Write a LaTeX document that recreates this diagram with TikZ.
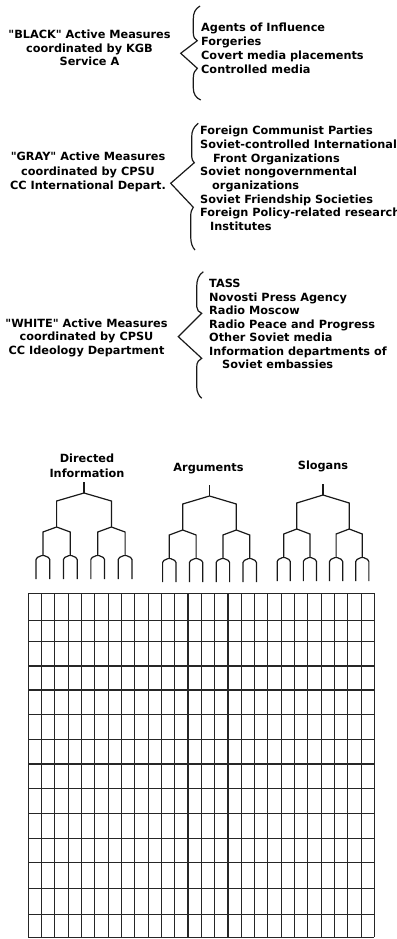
\documentclass[tikz,border=0pt]{standalone}
\usepackage{fontspec}
\setmainfont{DejaVu Sans}[Ligatures=TeXOff]
\newcommand\dq{"}
\newcommand\mytree[3]{%
  \draw[ln] ({#1},{#3}) -- ({#1},{#3+11});
  \foreach \sa in {-1,1} {
    \draw[ln] ({#1},{#3+11}) -- ({#1+2*\sa*#2},{#3+19}) -- ({#1+2*\sa*#2},{#3+45});
    \foreach \sb in {-1,1} {
      \draw[ln] ({#1+2*\sa*#2},{#3+45}) -- ({#1+(2*\sa+\sb)*#2},{#3+50}) -- ({#1+(2*\sa+\sb)*#2},{#3+73});
      \draw[ln, rounded corners=1.5pt] ({#1+(2*\sa+\sb-0.5)*#2},{#3+97}) -- ({#1+(2*\sa+\sb-0.5)*#2},{#3+76}) -- ({#1+(2*\sa+\sb)*#2},{#3+73}) -- ({#1+(2*\sa+\sb+0.5)*#2},{#3+76}) -- ({#1+(2*\sa+\sb+0.5)*#2},{#3+97});
    }
  }
}
\begin{document}
\begin{tikzpicture}[x=1pt,y=-1pt,
  txt/.style={font=\fontsize{11.3}{13}\selectfont\bfseries, inner sep=0pt, text=black},
  ln/.style={line width=1.2pt, draw=black!90},
  gridln/.style={line width=1.1pt, draw=black!85}]
\useasboundingbox (0,0) rectangle (396,939);

% ---- BLACK ----
\node[txt, anchor=base] (b1) at (89.5,39) {\dq BLACK\dq{} Active Measures};
\node[txt, anchor=base] (b2) at (89.5,52.3) {coordinated by KGB};
\node[txt, anchor=base] (b3) at (89.5,65.7) {Service A};
\draw[ln] (200,6) .. controls (195,9) and (193.3,13) .. (193.3,19) -- (193.3,33)
  .. controls (193.3,37) and (195,39.5) .. (197.3,40.7) -- (180.7,53.3) -- (197.3,68.3)
  .. controls (195,70) and (193.3,73) .. (193.3,78) -- (193.3,88)
  .. controls (193.3,94) and (196,98) .. (200.7,100);
\node[txt, anchor=base west] (l11) at (201,31.7) {Agents of Influence};
\node[txt, anchor=base west] (l12) at (201,45.8) {Forgeries};
\node[txt, anchor=base west] (l13) at (201,59.9) {Covert media placements};
\node[txt, anchor=base west] (l14) at (201,74) {Controlled media};

% ---- GRAY ----
\node[txt, anchor=base] (g1) at (88,160.7) {\dq GRAY\dq{} Active Measures};
\node[txt, anchor=base] (g2) at (88,175.2) {coordinated by CPSU};
\node[txt, anchor=base] (g3) at (88,189) {CC International Depart.};
\draw[ln] (198.3,123.3) .. controls (193.5,127) and (191.7,131) .. (191.7,137) -- (191.7,156.7)
  .. controls (191.7,159.5) and (193,161.5) .. (194.3,162.7) -- (170.7,183.3) -- (193.3,207.3)
  .. controls (191.5,209.5) and (190.7,212) .. (190.7,217) -- (190.7,236.7)
  .. controls (190.7,243) and (192.5,247.5) .. (195,250);
\node[txt, anchor=base west] (l21) at (200,135) {Foreign Communist Parties};
\node[txt, anchor=base west] (l22) at (200,148.65) {Soviet-controlled International};
\node[txt, anchor=base west] (l23) at (213,162.3) {Front Organizations};
\node[txt, anchor=base west] (l24) at (200,175.95) {Soviet nongovernmental};
\node[txt, anchor=base west] (l25) at (212,189.6) {organizations};
\node[txt, anchor=base west] (l26) at (200,203.25) {Soviet Friendship Societies};
\node[txt, anchor=base west] (l27) at (200,216.9) {Foreign Policy-related research};
\node[txt, anchor=base west] (l28) at (210,230.55) {Institutes};

% ---- WHITE ----
\node[txt, anchor=base] (w1) at (86.5,327.3) {\dq WHITE\dq{} Active Measures};
\node[txt, anchor=base] (w2) at (86.5,340.8) {coordinated by CPSU};
\node[txt, anchor=base] (w3) at (86.5,354.5) {CC Ideology Department};
\draw[ln] (203.3,271.7) .. controls (198.5,275) and (196.7,280) .. (196.7,287) -- (196.7,306.7)
  .. controls (196.7,310) and (199,312.3) .. (201.7,313.3) -- (178.3,336.7) -- (201.7,358.3)
  .. controls (199,359.5) and (196.7,362) .. (196.7,367) -- (196.7,386.7)
  .. controls (196.7,392) and (199,396) .. (201.7,398.3);
\node[txt, anchor=base west] (l31) at (209,287.5) {TASS};
\node[txt, anchor=base west] (l32) at (209,301) {Novosti Press Agency};
\node[txt, anchor=base west] (l33) at (209,314.5) {Radio Moscow};
\node[txt, anchor=base west] (l34) at (209,328) {Radio Peace and Progress};
\node[txt, anchor=base west] (l35) at (209,341.5) {Other Soviet media};
\node[txt, anchor=base west] (l36) at (209,355) {Information departments of};
\node[txt, anchor=base west] (l37) at (222,368.5) {Soviet embassies};

% ---- trees ----
\node[txt, anchor=base] (t1a) at (87,462.3) {Directed};
\node[txt, anchor=base] (t1b) at (87,477.3) {Information};
\node[txt, anchor=base] (t2) at (208.5,471.5) {Arguments};
\node[txt, anchor=base] (t3) at (323,469.5) {Slogans};
\mytree{84}{13.7}{482}
\mytree{209.5}{13.4}{485}
\mytree{323}{13.1}{484}

% ---- grid ----
\foreach \k in {0,...,26}
  \draw[gridln] ({28.3+13.31*\k},593.3) -- ({28.3+13.31*\k},937.3);
\foreach \yy in {593.3,620.7,641.7,666,690,714.7,739.3,764,788.7,813.3,838.3,862.3,888.3,914.3,937.3}
  \draw[gridln] (28.3,\yy) -- (374.4,\yy);
\end{tikzpicture}
\end{document}
